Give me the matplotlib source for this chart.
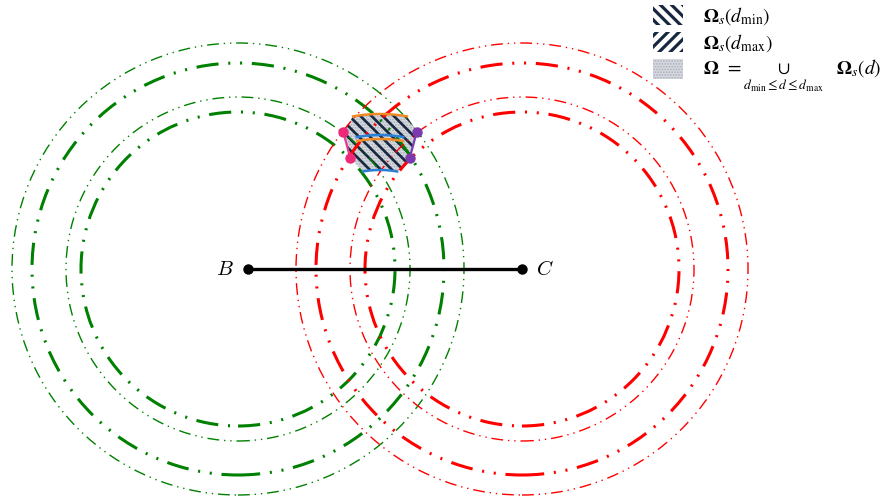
import numpy as np
import matplotlib
matplotlib.use("Agg")
import matplotlib.pyplot as plt
from matplotlib.patches import Circle, Polygon, Patch

plt.rcParams["mathtext.fontset"] = "cm"
plt.rcParams["lines.scale_dashes"] = False

# anchor points and ring radii
B = (0.0, 0.0)
C = (274.0, 0.0)
green_center = (-10.0, 0.0)
red_center = C
ring_radii = [157, 172, 206, 226]
ring_thick = [True, False, True, False]

# feasible region, described around the mid point of the two ring centres
arc_span = (80, 100)             # degrees
arc_radii = [155, 134, 130, 99]
arc_colors = ["#f08a24", "#2c7fd6", "#f08a24", "#2c7fd6"]
side_r = [142, 115]
side_angle = 15                  # degrees away from the span edge

navy = "#17273f"
thick_dash = (0, (16, 7, 1.5, 7, 1.5, 7))
thin_dash = (0, (8.5, 3.5, 1, 3.5, 1, 3.5))

fig = plt.figure(figsize=(8.81, 5), dpi=100)
ax = fig.add_axes([0, 0, 1, 1])
ax.set_xlim(-248, 633)
ax.set_ylim(-231, 269)
ax.set_aspect("equal")
ax.axis("off")

mid = ((green_center[0] + red_center[0]) / 2, 0.0)


def polar(r, deg):
    t = np.radians(deg)
    return mid[0] + r * np.cos(t), mid[1] + r * np.sin(t)


# region outline: top arc, left side, bottom arc, right side
a0, a1 = arc_span
th = np.linspace(a0, a1, 40)
top = np.column_stack(polar(arc_radii[0], th))
bottom = np.column_stack(polar(arc_radii[-1], th[::-1]))
left = np.array([polar(r, a1 + (side_angle - 10)) for r in side_r])
right = np.array([polar(r, a0 - (side_angle - 10)) for r in side_r[::-1]])
outline = np.vstack([top, left, bottom, right])


def make_patch(cls, *args, hatch_lw=1.0, **kw):
    with plt.rc_context({"hatch.linewidth": hatch_lw}):
        p = cls(*args, **kw)
    if hasattr(p, "set_hatch_linewidth"):
        p.set_hatch_linewidth(hatch_lw)
    return p


gray_kw = dict(facecolor="#d6d9df", edgecolor="#a8adb7", hatch="......", linewidth=0)
stripe_kw = dict(edgecolor=navy, linewidth=0)

ax.add_patch(make_patch(Polygon, outline, closed=True, hatch_lw=0.8, zorder=1, **gray_kw))
ax.add_patch(make_patch(Polygon, outline, closed=True, hatch_lw=1.9, zorder=2,
                        facecolor="none", hatch="\\\\\\", **stripe_kw))

# rings around B (green) and C (red)
for center, color in [(green_center, "green"), (red_center, "red")]:
    for r, thick in zip(ring_radii, ring_thick):
        ax.add_patch(Circle(center, r, fill=False, edgecolor=color,
                            linewidth=2.2 if thick else 1.0,
                            linestyle=thick_dash if thick else thin_dash,
                            zorder=3))

# arcs bounding the region
for r, col in zip(arc_radii, arc_colors):
    x, y = polar(r, th)
    ax.plot(x, y, color=col, linewidth=1.8, zorder=5)

# side edges with their end points
lx, ly = left[:, 0], left[:, 1]
rx, ry = right[:, 0], right[:, 1]
ax.plot(lx, ly, color="#e23a90", linewidth=1.6, zorder=5)
ax.plot(rx, ry, color="#7d3cb3", linewidth=1.6, zorder=5)
ax.plot(lx, ly, "o", color="#ee2a78", markersize=6.5, zorder=6)
ax.plot(rx, ry, "o", color="#7a3aae", markersize=6.5, zorder=6)

# baseline B-C
ax.plot([B[0], C[0]], [B[1], C[1]], color="black", linewidth=2.4, zorder=4)
ax.plot([B[0], C[0]], [B[1], C[1]], "o", color="black", markersize=6.5, zorder=4)
ax.text(B[0] - 14, B[1], "$B$", fontsize=15, ha="right", va="center")
ax.text(C[0] + 14, C[1], "$C$", fontsize=15, ha="left", va="center")

handles = [
    make_patch(Patch, hatch_lw=2.3, facecolor="white", hatch="\\\\\\", **stripe_kw),
    make_patch(Patch, hatch_lw=2.3, facecolor="white", hatch="///", **stripe_kw),
    make_patch(Patch, hatch_lw=0.8, **gray_kw),
]
labels = [
    r"$\mathbf{\Omega}_s(d_{\min})$",
    r"$\mathbf{\Omega}_s(d_{\max})$",
    r"$\mathbf{\Omega}\;\, = \underset{d_{\min} \leq d \leq d_{\max}}{\cup}\ \ \;\mathbf{\Omega}_s(d)$",
]
with plt.rc_context({"hatch.linewidth": 2.3}):
    leg = ax.legend(handles, labels, loc="upper right", bbox_to_anchor=(1.011, 1.01),
                    frameon=False, fontsize=14, handlelength=1.55, handleheight=1.2,
                    handletextpad=1.0, labelspacing=0.25, borderaxespad=0.1)
for h, lw in zip(leg.get_patches(), [2.3, 2.3, 0.8]):
    if hasattr(h, "set_hatch_linewidth"):
        h.set_hatch_linewidth(lw)
# bold upright Omega needs the STIX set
for t in leg.get_texts():
    t.set_math_fontfamily("stix")

fig.savefig("out.png", dpi=100)
